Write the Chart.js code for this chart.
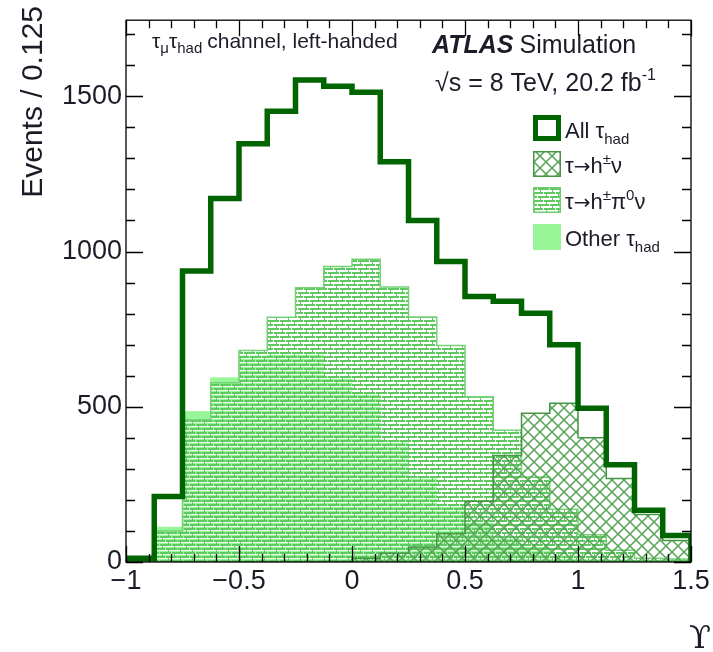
<!DOCTYPE html>
<html>
<head>
<meta charset="utf-8">
<script src="https://cdn.jsdelivr.net/npm/chart.js@4.4.1/dist/chart.umd.min.js"></script>
<style>
  html, body { margin: 0; padding: 0; background: #fff; }
</style>
</head>
<body>
<canvas id="histo" width="713" height="652"></canvas>
<script>
// bin edges of Upsilon, width 0.125
const binEdges = [-1, -0.875, -0.75, -0.625, -0.5, -0.375, -0.25, -0.125, 0,
                  0.125, 0.25, 0.375, 0.5, 0.625, 0.75, 0.875, 1, 1.125, 1.25, 1.375, 1.5];

// events per bin
const allTau   = [12, 211, 937, 1171, 1347, 1452, 1552, 1532, 1513, 1289, 1100, 968, 855, 840, 801, 700, 495, 313, 167, 85];
const hNu      = [0, 0, 0, 0, 0, 0, 0, 2, 12, 28, 48, 91, 196, 343, 479, 511, 400, 269, 153, 69];
const hPi0Nu   = [4, 100, 458, 577, 681, 788, 883, 952, 975, 886, 789, 697, 532, 424, 274, 170, 88, 38, 12, 10];
const otherTau = [6, 112, 484, 593, 663, 669, 669, 596, 542, 391, 274, 180, 127, 73, 48, 19, 7, 6, 4, 6];

const xTicks = [-1, -0.5, 0, 0.5, 1, 1.5];
const yTicks = [0, 500, 1000, 1500];
const yMax = 1745;

const FONT = '"Liberation Sans", Arial, Helvetica, sans-serif';
const TXT = '#1c1c28';

// step outline: up at first edge, flat over each bin, down at last edge
function stepPoints(values) {
    let pts = [{ x: binEdges[0], y: 0 }, { x: binEdges[0], y: values[0] }];
    values.forEach((v, i) => pts.push({ x: binEdges[i + 1], y: values[i + 1] !== undefined ? values[i + 1] : v }));
    pts.push({ x: binEdges[binEdges.length - 1], y: 0 });
    return pts;
}

//////// hatch patterns ////////
function crossPattern() {
    let c = document.createElement('canvas');
    c.width = 12; c.height = 12;
    let g = c.getContext('2d');
    g.strokeStyle = 'rgb(84,164,84)';
    g.lineWidth = 1.5;
    g.beginPath();
    g.moveTo(-1, -1); g.lineTo(13, 13);
    g.moveTo(13, -1); g.lineTo(-1, 13);
    g.stroke();
    return g.createPattern(c, 'repeat');
}

// dashed horizontal "brick" hatch, transparent between the green rows
function brickPattern() {
    let c = document.createElement('canvas');
    c.width = 12; c.height = 8;
    let g = c.getContext('2d');
    g.fillStyle = 'rgb(96,200,96)';
    g.fillRect(0, 0, 12, 2);
    g.fillRect(0, 4, 12, 2);
    // gaps in the green rows
    g.clearRect(3, 0, 1, 2);
    g.clearRect(9, 4, 1, 2);
    // light dashes in the open rows
    g.fillStyle = 'rgba(255,255,255,0.8)';
    g.fillRect(0, 2, 12, 1);
    g.fillRect(0, 6, 12, 1);
    g.fillStyle = 'rgb(96,200,96)';
    g.fillRect(6, 2, 1, 2);
    g.fillRect(0, 6, 1, 2);
    return g.createPattern(c, 'repeat');
}

const crossFill = crossPattern();
const brickFill = brickPattern();

// draw text pieces with sub/superscripts
function drawParts(ctx, x, y, parts) {
    parts.forEach(p => {
        ctx.font = p.f;
        ctx.fillText(p.t, x, y + (p.dy || 0));
        x += ctx.measureText(p.t).width + (p.gap || 0);
    });
    return x;
}

const framePlugin = {
    id: 'frame',
    afterDraw(chart) {
        const ctx = chart.ctx;
        const a = chart.chartArea;
        const xs = chart.scales.x, ys = chart.scales.y;
        ctx.save();
        ctx.strokeStyle = '#000';
        ctx.lineWidth = 1.3;
        ctx.strokeRect(a.left, a.top, a.right - a.left, a.bottom - a.top);

        // inward ticks on all four sides
        ctx.beginPath();
        for (let i = 0; i <= 25; i++) {
            let v = -1 + i * 0.1;
            let px = Math.round(xs.getPixelForValue(v)) + 0.5;
            let len = (i % 5 === 0) ? 16 : 8;
            ctx.moveTo(px, a.bottom); ctx.lineTo(px, a.bottom - len);
            ctx.moveTo(px, a.top); ctx.lineTo(px, a.top + len);
        }
        for (let v = 0; v <= yMax; v += 100) {
            let py = Math.round(ys.getPixelForValue(v)) + 0.5;
            let len = (v % 500 === 0) ? 17 : 9;
            ctx.moveTo(a.left, py); ctx.lineTo(a.left + len, py);
            ctx.moveTo(a.right, py); ctx.lineTo(a.right - len, py);
        }
        ctx.stroke();

        ctx.fillStyle = TXT;
        ctx.textBaseline = 'alphabetic';
        ctx.textAlign = 'left';

        // axis titles
        ctx.save();
        ctx.translate(42, 6);
        ctx.rotate(-Math.PI / 2);
        ctx.textAlign = 'right';
        ctx.font = '30px ' + FONT;
        ctx.fillText('Events / 0.125', 0, 0);
        ctx.restore();
        ctx.font = '32px "DejaVu Serif", serif';
        ctx.textAlign = 'right';
        ctx.fillText('\u03D2', 711, 648);
        ctx.textAlign = 'left';

        // labels inside the frame
        const f21 = '21px ' + FONT, s14 = '15px ' + FONT;
        drawParts(ctx, 152, 48, [
            { t: 'τ', f: f21 }, { t: 'μ', f: s14, dy: 5 },
            { t: 'τ', f: f21 }, { t: 'had', f: s14, dy: 5, gap: 5 },
            { t: 'channel, left-handed', f: f21 }
        ]);
        drawParts(ctx, 432, 53, [
            { t: 'ATLAS', f: 'italic bold 25px ' + FONT, gap: 6 },
            { t: 'Simulation', f: '25px ' + FONT }
        ]);
        drawParts(ctx, 435, 91, [
            { t: '√s = 8 TeV, 20.2 fb', f: '25px ' + FONT },
            { t: '-1', f: '16px ' + FONT, dy: -11 }
        ]);

        // legend
        const lx = 533, lw = 28, lh = 26;
        const rows = [128, 164, 200, 237];
        const f22 = '22px ' + FONT, s15 = '15px ' + FONT, arr = '20px "DejaVu Sans", sans-serif';
        // All
        ctx.lineWidth = 5;
        ctx.strokeStyle = '#006400';
        ctx.strokeRect(lx + 2.5, rows[0] - lh / 2 + 2.5, lw - 5, lh - 5);
        // h nu
        ctx.fillStyle = crossFill;
        ctx.fillRect(lx, rows[1] - lh / 2, lw, lh);
        ctx.lineWidth = 1.5;
        ctx.strokeStyle = 'rgb(70,150,70)';
        ctx.strokeRect(lx + 0.75, rows[1] - lh / 2 + 0.75, lw - 1.5, lh - 1.5);
        // h pi0 nu
        ctx.fillStyle = brickFill;
        ctx.fillRect(lx, rows[2] - lh / 2, lw, lh);
        ctx.strokeStyle = 'rgb(110,205,110)';
        ctx.strokeRect(lx + 0.75, rows[2] - lh / 2 + 0.75, lw - 1.5, lh - 1.5);
        // other
        ctx.fillStyle = 'rgb(152,245,152)';
        ctx.fillRect(lx, rows[3] - lh / 2, lw, lh);

        ctx.fillStyle = TXT;
        const tx = lx + lw + 4;
        drawParts(ctx, tx, rows[0] + 10, [
            { t: 'All ', f: f22 }, { t: 'τ', f: f22 }, { t: 'had', f: s15, dy: 6 }
        ]);
        drawParts(ctx, tx, rows[1] + 9, [
            { t: 'τ', f: f22 }, { t: '→', f: arr }, { t: 'h', f: f22 }, { t: '±', f: s15, dy: -9 }, { t: 'ν', f: f22 }
        ]);
        drawParts(ctx, tx, rows[2] + 9, [
            { t: 'τ', f: f22 }, { t: '→', f: arr }, { t: 'h', f: f22 }, { t: '±', f: s15, dy: -9 }, { t: 'π', f: f22 },
            { t: '0', f: s15, dy: -9 }, { t: 'ν', f: f22 }
        ]);
        drawParts(ctx, tx, rows[3] + 9, [
            { t: 'Other ', f: f22 }, { t: 'τ', f: f22 }, { t: 'had', f: s15, dy: 6 }
        ]);
        ctx.restore();
    }
};

function fmtTick(v) {
    return v < 0 ? '\u2212' + Math.abs(v) : String(v);
}

const histo = new Chart(document.getElementById('histo'), {
    type: 'line',
    data: {
        datasets: [
            {
                label: 'All τhad',
                data: stepPoints(allTau),
                stepped: 'before',
                borderColor: '#006400',
                borderWidth: 5.5,
                fill: false
            },
            {
                label: 'τ→h±ν',
                data: stepPoints(hNu),
                stepped: 'before',
                borderColor: 'rgb(70,150,70)',
                borderWidth: 1.5,
                backgroundColor: crossFill,
                fill: 'origin'
            },
            {
                label: 'τ→h±π0ν',
                data: stepPoints(hPi0Nu),
                stepped: 'before',
                borderColor: 'rgb(118,210,118)',
                borderWidth: 1.5,
                backgroundColor: brickFill,
                fill: 'origin'
            },
            {
                label: 'Other τhad',
                data: stepPoints(otherTau),
                stepped: 'before',
                borderColor: 'rgb(152,245,152)',
                borderWidth: 1,
                backgroundColor: 'rgb(152,245,152)',
                fill: 'origin'
            }
        ]
    },
    options: {
        responsive: false,
        animation: false,
        elements: {
            point: { radius: 0, hoverRadius: 0 },
            line: { tension: 0, borderJoinStyle: 'miter', borderCapStyle: 'butt' }
        },
        layout: { padding: { top: 9, right: 22, left: 0, bottom: 0 } },
        plugins: {
            legend: { display: false },
            tooltip: { enabled: false }
        },
        scales: {
            x: {
                type: 'linear',
                min: -1,
                max: 1.5,
                grid: { display: false, drawTicks: false },
                border: { display: false },
                afterBuildTicks: s => { s.ticks = xTicks.map(v => ({ value: v })); },
                afterFit: s => { s.height = 90; },
                ticks: {
                    font: { family: FONT, size: 27 },
                    color: TXT,
                    padding: 3,
                    maxRotation: 0,
                    autoSkip: false,
                    callback: fmtTick
                }
            },
            y: {
                min: 0,
                max: yMax,
                grid: { display: false, drawTicks: false },
                border: { display: false },
                afterBuildTicks: s => { s.ticks = yTicks.map(v => ({ value: v })); },
                afterFit: s => { s.width = 126; },
                ticks: {
                    font: { family: FONT, size: 27 },
                    color: TXT,
                    padding: 4,
                    autoSkip: false,
                    callback: v => String(v)
                }
            }
        }
    },
    plugins: [framePlugin]
});
</script>
</body>
</html>
